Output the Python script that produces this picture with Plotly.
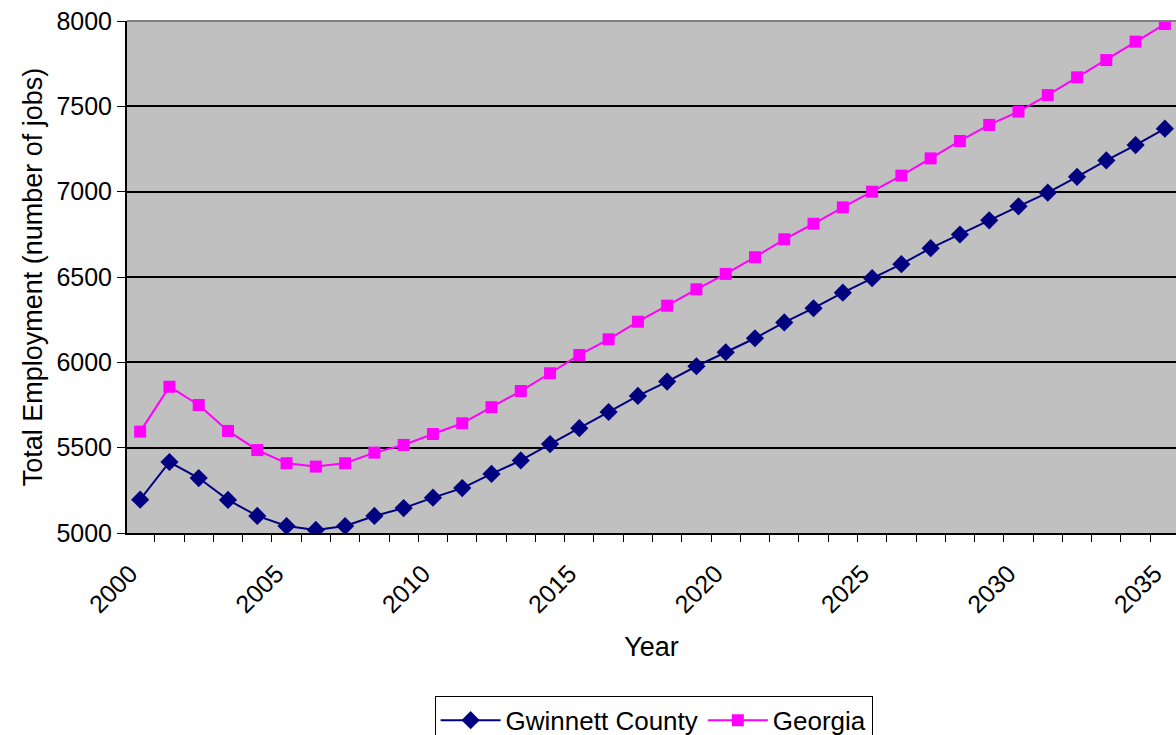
import plotly.graph_objects as go

# Annual total employment, 2000-2035
years = list(range(2000, 2036))

gwinnett = [5195, 5416, 5322, 5194, 5100, 5041, 5018, 5041, 5100, 5146,
            5207, 5263, 5346, 5425, 5521, 5614, 5709, 5803, 5887, 5977,
            6059, 6141, 6234, 6317, 6408, 6493, 6575, 6669, 6749, 6832,
            6914, 6994, 7087, 7183, 7273, 7369]

georgia = [5594, 5857, 5750, 5598, 5486, 5409, 5389, 5409, 5471, 5516,
           5580, 5643, 5737, 5832, 5936, 6043, 6135, 6238, 6332, 6428,
           6518, 6616, 6721, 6812, 6908, 7000, 7094, 7195, 7297, 7391,
           7469, 7566, 7670, 7771, 7879, 7982]

label_years = [2000, 2005, 2010, 2015, 2020, 2025, 2030, 2035]
y_ticks = [5000, 5500, 6000, 6500, 7000, 7500, 8000]

FONT = "Liberation Sans, Arial, sans-serif"
NAVY = "#000080"
MAGENTA = "#FF00FF"

fig = go.Figure()
fig.add_trace(go.Scatter(
    x=years, y=gwinnett, name="Gwinnett County", mode="lines+markers",
    line=dict(color=NAVY, width=2),
    marker=dict(symbol="diamond", size=14, color=NAVY),
))
fig.add_trace(go.Scatter(
    x=years, y=georgia, name="Georgia", mode="lines+markers",
    line=dict(color=MAGENTA, width=2),
    marker=dict(symbol="square", size=12, color=MAGENTA),
))

fig.update_layout(
    width=1176, height=735,
    margin=dict(l=127, r=0, t=21, b=202, autoexpand=False),
    paper_bgcolor="white",
    plot_bgcolor="#C0C0C0",
    font=dict(family=FONT, size=23, color="black"),
    showlegend=True,
    legend=dict(
        orientation="h", x=0.502, xanchor="center", y=-0.318, yanchor="top",
        bordercolor="black", borderwidth=1, bgcolor="white",
        font=dict(size=26), itemwidth=60, tracegroupgap=0,
    ),
)

fig.update_xaxes(
    range=[1999.55, 2035.38],
    tickmode="array", tickvals=label_years,
    ticktext=[str(y) for y in label_years],
    tickangle=-45, ticks="", showgrid=False, zeroline=False,
    tickfont=dict(size=25),
    ticklabelstandoff=14, ticklabelshift=-10,
    showline=True, linecolor="black", linewidth=2,
    minor=dict(tick0=1999.5, dtick=1, ticks="outside", ticklen=7,
               tickcolor="black", tickwidth=1, showgrid=False),
    title=dict(text="Year", standoff=20, font=dict(size=27)),
)

fig.update_yaxes(
    range=[5000, 8000],
    tickmode="array", tickvals=y_ticks,
    tickfont=dict(size=25),
    ticks="outside", ticklen=8, tickcolor="black", tickwidth=1,
    showgrid=True, gridcolor="black", gridwidth=2,
    zeroline=False, showline=True, linecolor="black", linewidth=2,
    title=dict(text="Total Employment (number of jobs)", standoff=6,
               font=dict(size=27)),
)

# Gray frame line along the top of the plotting area
fig.add_shape(type="line", xref="paper", yref="paper",
              x0=0, x1=1, y0=1, y1=1,
              line=dict(color="#808080", width=2))

fig.write_html("out.html")
